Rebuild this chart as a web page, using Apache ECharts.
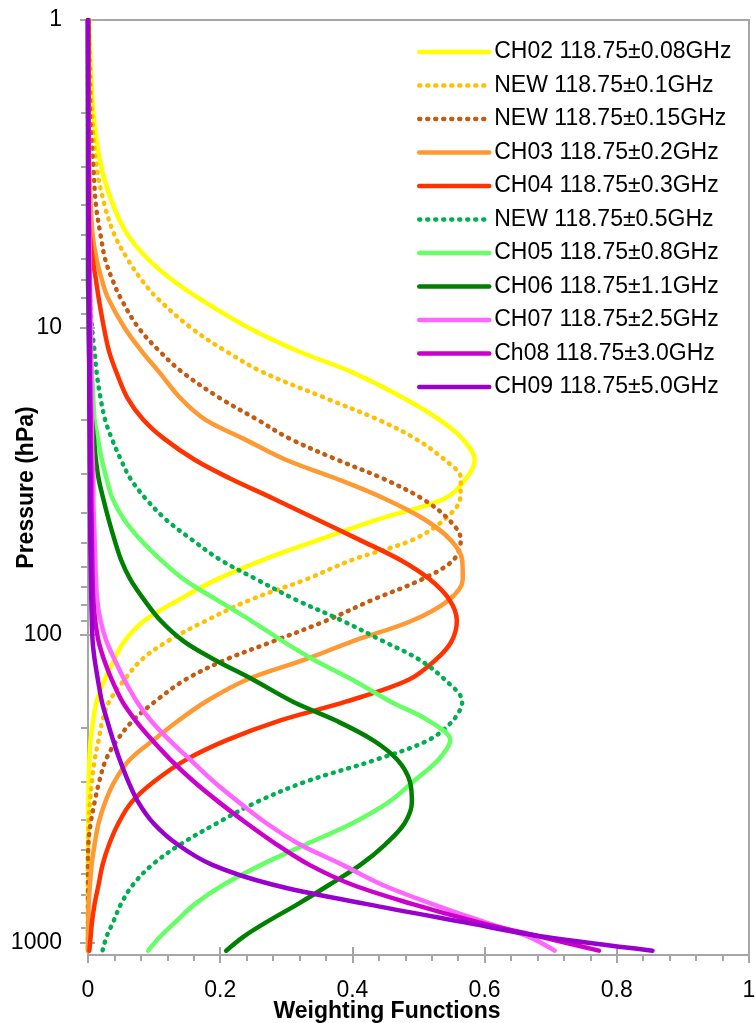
<!DOCTYPE html>
<html><head><meta charset="utf-8">
<script src="https://cdn.jsdelivr.net/npm/echarts@6/dist/echarts.min.js"></script>
<style>html,body{margin:0;padding:0;background:#fff}#c{width:755px;height:1023px}</style>
</head><body><div id="c"></div>
<script>
// Pressure levels (hPa) shared by every weighting function
const pressure = [1, 2, 3, 4, 5, 6, 7, 8, 10, 12, 14, 17, 20, 23, 27, 31, 36, 42, 49, 57, 66, 77, 90, 105, 120, 140, 165, 190, 220, 255, 300, 350, 410, 480, 560, 650, 750, 860, 960, 1065];

const seriesNames = [
  'CH02 118.75±0.08GHz', 'NEW 118.75±0.1GHz', 'NEW 118.75±0.15GHz', 'CH03 118.75±0.2GHz',
  'CH04 118.75±0.3GHz', 'NEW 118.75±0.5GHz', 'CH05 118.75±0.8GHz', 'CH06 118.75±1.1GHz',
  'CH07 118.75±2.5GHz', 'Ch08 118.75±3.0GHz', 'CH09 118.75±5.0GHz'
];

const ch02 = [0.002, 0.008, 0.020, 0.038, 0.060, 0.091, 0.127, 0.166, 0.242, 0.32, 0.40, 0.478, 0.532, 0.566, 0.585, 0.572, 0.540, 0.44, 0.35, 0.265, 0.195, 0.137, 0.085, 0.055, 0.040, 0.025, 0.013, 0.008, 0.004, 0.002, 0.001, 0.0005, 0.0002, 0, 0, 0, 0, 0, 0, 0];
const new01 = [0.001, 0.006, 0.013, 0.025, 0.040, 0.060, 0.081, 0.104, 0.155, 0.21, 0.265, 0.36, 0.44, 0.495, 0.54, 0.564, 0.563, 0.540, 0.492, 0.40, 0.33, 0.245, 0.178, 0.12, 0.082, 0.055, 0.032, 0.022, 0.016, 0.010, 0.006, 0.003, 0.001, 0.0003, 0, 0, 0, 0, 0, 0];
const new015 = [0.001, 0.003, 0.008, 0.012, 0.019, 0.026, 0.037, 0.049, 0.076, 0.109, 0.143, 0.20, 0.257, 0.305, 0.378, 0.446, 0.505, 0.545, 0.564, 0.553, 0.505, 0.43, 0.36, 0.28, 0.21, 0.147, 0.101, 0.068, 0.044, 0.027, 0.017, 0.010, 0.004, 0.0005, 0, 0, 0, 0, 0, 0];
const ch03 = [0.0005, 0.001, 0.002, 0.004, 0.007, 0.013, 0.021, 0.030, 0.055, 0.082, 0.108, 0.14, 0.178, 0.235, 0.30, 0.375, 0.448, 0.508, 0.548, 0.566, 0.567, 0.546, 0.49, 0.40, 0.33, 0.24, 0.178, 0.137, 0.099, 0.063, 0.040, 0.026, 0.016, 0.010, 0.0055, 0.003, 0.001, 0.0005, 0, 0];
const ch04 = [0, 0.0003, 0.0006, 0.001, 0.003, 0.007, 0.012, 0.016, 0.024, 0.032, 0.043, 0.06, 0.084, 0.115, 0.162, 0.215, 0.28, 0.345, 0.41, 0.472, 0.517, 0.547, 0.558, 0.55, 0.527, 0.485, 0.39, 0.29, 0.21, 0.148, 0.10, 0.066, 0.046, 0.032, 0.022, 0.016, 0.010, 0.006, 0.004, 0.002];
const new05 = [0, 0, 0.0003, 0.0005, 0.001, 0.0015, 0.002, 0.003, 0.006, 0.010, 0.013, 0.019, 0.026, 0.036, 0.050, 0.064, 0.087, 0.117, 0.157, 0.20, 0.255, 0.315, 0.385, 0.447, 0.50, 0.54, 0.566, 0.552, 0.515, 0.435, 0.33, 0.255, 0.195, 0.14, 0.097, 0.068, 0.05, 0.038, 0.028, 0.022];
const ch05 = [0, 0, 0, 0.0003, 0.0005, 0.001, 0.0015, 0.002, 0.003, 0.004, 0.006, 0.008, 0.010, 0.015, 0.021, 0.028, 0.037, 0.054, 0.079, 0.11, 0.145, 0.195, 0.247, 0.295, 0.34, 0.40, 0.458, 0.515, 0.548, 0.530, 0.492, 0.455, 0.40, 0.33, 0.262, 0.205, 0.162, 0.132, 0.109, 0.091];
const ch06 = [0, 0, 0, 0, 0, 0, 0, 0.0005, 0.001, 0.0015, 0.002, 0.003, 0.006, 0.009, 0.012, 0.016, 0.023, 0.031, 0.040, 0.050, 0.064, 0.085, 0.11, 0.145, 0.19, 0.25, 0.31, 0.375, 0.431, 0.468, 0.487, 0.490, 0.479, 0.45, 0.412, 0.365, 0.318, 0.27, 0.235, 0.209];
const ch07 = [0, 0.0005, 0.001, 0.0015, 0.002, 0.0025, 0.003, 0.0035, 0.004, 0.0045, 0.005, 0.005, 0.006, 0.006, 0.007, 0.008, 0.008, 0.009, 0.010, 0.011, 0.012, 0.014, 0.019, 0.028, 0.040, 0.055, 0.074, 0.095, 0.123, 0.155, 0.19, 0.228, 0.27, 0.32, 0.385, 0.445, 0.52, 0.60, 0.667, 0.706];
const ch08 = [0, 0.0003, 0.0005, 0.001, 0.001, 0.0015, 0.002, 0.002, 0.0025, 0.003, 0.003, 0.0035, 0.004, 0.004, 0.0045, 0.005, 0.005, 0.0055, 0.006, 0.0065, 0.007, 0.008, 0.011, 0.016, 0.024, 0.036, 0.052, 0.072, 0.097, 0.125, 0.16, 0.198, 0.24, 0.285, 0.335, 0.40, 0.49, 0.59, 0.685, 0.773];
const ch09 = [0, 0.0003, 0.0005, 0.0007, 0.001, 0.001, 0.0012, 0.0013, 0.0015, 0.0017, 0.002, 0.002, 0.0022, 0.0025, 0.0027, 0.003, 0.003, 0.0033, 0.0035, 0.004, 0.0045, 0.005, 0.0058, 0.007, 0.010, 0.015, 0.021, 0.029, 0.038, 0.048, 0.061, 0.076, 0.099, 0.135, 0.188, 0.28, 0.42, 0.568, 0.69, 0.854];

const xTickLabels = [0, 0.2, 0.4, 0.6, 0.8, 1];
const yTickLabels = [1, 10, 100, 1000];
const yMinorTicks = [2, 3, 4, 5, 6, 7, 8, 9, 20, 30, 40, 50, 60, 70, 80, 90, 200, 300, 400, 500, 600, 700, 800, 900];

const seriesValues = [ch02, new01, new015, ch03, ch04, new05, ch05, ch06, ch07, ch08, ch09];
const seriesColors = ['#FFFF00', '#FFC000', '#C55A11', '#FF9933', '#FF3300', '#00B050', '#66FF66', '#008000', '#FF66FF', '#CC00CC', '#9900CC'];
const seriesDotted = [false, true, true, false, false, true, false, false, false, false, false];

const FONT = 'Liberation Sans';
const AX = '#a6a6a6';
const Y_MAX = 1100;
const LOG_MAX = Math.log10(Y_MAX);

const chart = echarts.init(document.getElementById('c'), null, { renderer: 'canvas' });

const series = seriesNames.map((name, i) => ({
  name: name,
  type: 'line',
  xAxisIndex: 0,
  yAxisIndex: 0,
  symbol: 'none',
  showSymbol: false,
  smooth: 0.35,
  silent: true,
  lineStyle: {
    color: seriesColors[i],
    width: 4.5,
    cap: 'round',
    join: 'round',
    type: seriesDotted[i] ? [1, 7] : 'solid'
  },
  itemStyle: { color: seriesColors[i] },
  data: pressure.map((p, k) => [seriesValues[i][k], p])
}));

const tickLine = { color: AX, width: 2 };
const hiddenY = (extra) => Object.assign({
  type: 'value', min: 0, max: LOG_MAX, inverse: true, position: 'left',
  axisLine: { show: false }, axisLabel: { show: false }, splitLine: { show: false }
}, extra);

const option = {
  animation: false,
  backgroundColor: '#ffffff',
  grid: { left: 88, right: 6, top: 20, bottom: 68, show: true, borderColor: AX, borderWidth: 2,
    containLabel: false, outerBoundsMode: 'none' },
  legend: {
    orient: 'vertical', left: 417, top: 39, padding: 0,
    itemWidth: 70, itemHeight: 14, itemGap: 7.5,
    textStyle: { fontFamily: FONT, fontSize: 23, color: '#000', lineHeight: 26 },
    lineStyle: { cap: 'round', width: 4.5 },
    itemStyle: { color: 'rgba(0,0,0,0)', borderColor: 'rgba(0,0,0,0)', borderWidth: 0 },
    data: seriesNames
  },
  xAxis: [
    {
      type: 'value', min: 0, max: 1, interval: 0.2, position: 'bottom',
      axisLine: { onZero: false, lineStyle: { color: AX, width: 2 } },
      axisTick: { length: 8, lineStyle: tickLine },
      minorTick: { show: true, splitNumber: 5, length: 6, lineStyle: tickLine },
      splitLine: { show: false },
      axisLabel: { margin: 24, fontFamily: FONT, fontSize: 23, color: '#000',
        formatter: (v) => { const m = xTickLabels.find(t => Math.abs(t - v) < 1e-9); return m === undefined ? '' : String(m); } },
      name: 'Weighting Functions', nameLocation: 'middle', nameGap: 45, nameMoveOverlap: false,
      nameTextStyle: { fontFamily: FONT, fontSize: 23, fontWeight: 'bold', color: '#000', padding: [0, 63, 0, 0] }
    },
    {
      type: 'value', min: 0, max: 1, interval: 0.2, position: 'bottom',
      axisLine: { show: false, onZero: false },
      axisTick: { inside: true, length: 8, lineStyle: tickLine },
      axisLabel: { show: false }, splitLine: { show: false }
    }
  ],
  yAxis: [
    {
      type: 'log', logBase: 10, min: 1, max: Y_MAX, inverse: true, position: 'left',
      axisLine: { onZero: false, lineStyle: { color: AX, width: 2 } },
      axisTick: { show: false }, minorTick: { show: false },
      splitLine: { show: false }, minorSplitLine: { show: false },
      axisLabel: { margin: 26, fontFamily: FONT, fontSize: 23, color: '#000',
        formatter: (v) => { const m = yTickLabels.find(t => Math.abs(t - v) < 1e-6 * t); return m === undefined ? '' : String(m); } },
      name: 'Pressure (hPa)', nameLocation: 'middle', nameGap: 50, nameMoveOverlap: false,
      nameTextStyle: { fontFamily: FONT, fontSize: 23, fontWeight: 'bold', color: '#000' }
    },
    hiddenY({ axisTick: { show: true, length: 8, customValues: yTickLabels.map(Math.log10), lineStyle: tickLine } }),
    hiddenY({ axisTick: { show: true, inside: true, length: 7, customValues: yTickLabels.map(Math.log10), lineStyle: tickLine } }),
    hiddenY({ axisTick: { show: true, length: 7, customValues: yMinorTicks.map(Math.log10), lineStyle: tickLine } })
  ],
  series: series
};

chart.setOption(option);
</script>
</body></html>
